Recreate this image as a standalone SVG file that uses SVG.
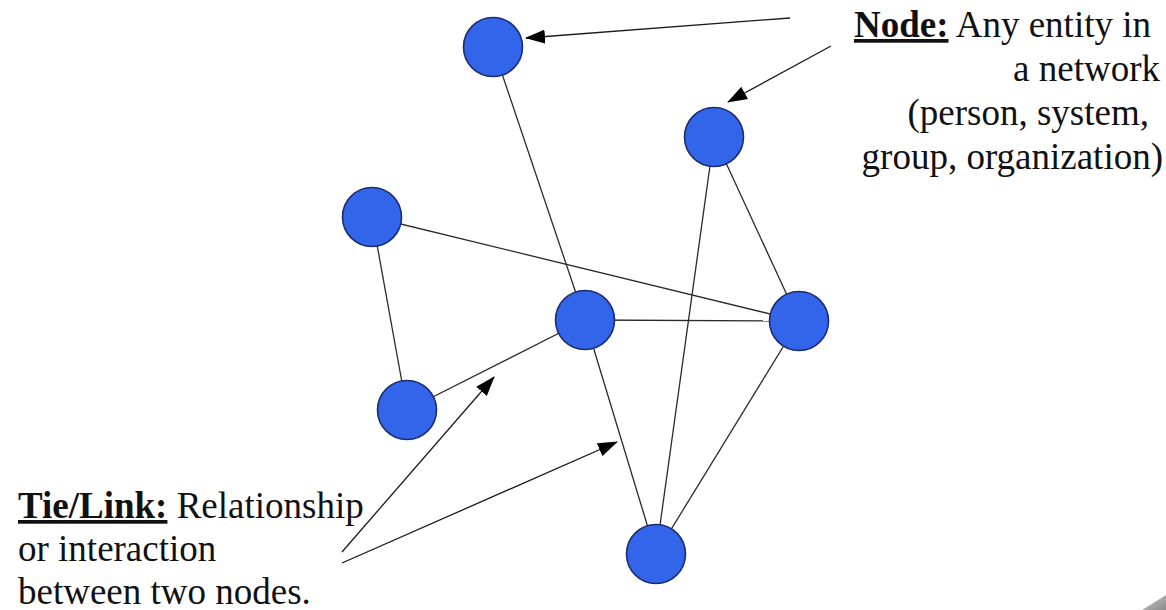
<svg xmlns="http://www.w3.org/2000/svg" width="1166" height="610" viewBox="0 0 1166 610">
<style>
.edge{stroke:#2a2a2a;stroke-width:1.3;fill:none}
.ptr{stroke:#1a1a1a;stroke-width:1.3;fill:none;marker-end:url(#ah)}
.node{fill:#3265EA;stroke:#1c2d72;stroke-width:1.6}
.lbl{font-size:37px;fill:#111}
.b{font-weight:bold;text-decoration:underline}
</style>
<defs>
<marker id="ah" markerWidth="20" markerHeight="14" refX="19" refY="7" orient="auto" markerUnits="userSpaceOnUse">
<path d="M0,0 L20,7 L0,14 Z" fill="#000"/>
</marker>
<linearGradient id="curl" x1="0" y1="0" x2="1" y2="1">
<stop offset="0" stop-color="#c8c8c8"/>
<stop offset="1" stop-color="#8a8a8a"/>
</linearGradient>
</defs>
<rect width="1166" height="610" fill="#fff"/>
<g id="connectors">
<line class="edge" x1="493" y1="47" x2="585" y2="320"/>
<line class="edge" x1="372" y1="217" x2="407" y2="410"/>
<line class="edge" x1="372" y1="217" x2="799" y2="321"/>
<line class="edge" x1="585" y1="320" x2="799" y2="321"/>
<line class="edge" x1="407" y1="410" x2="585" y2="320"/>
<line class="edge" x1="585" y1="320" x2="656" y2="554"/>
<line class="edge" x1="714" y1="137" x2="656" y2="554"/>
<line class="edge" x1="714" y1="137" x2="799" y2="321"/>
<line class="edge" x1="799" y1="321" x2="656" y2="554"/>
<line class="ptr" x1="790" y1="18" x2="526" y2="38"/>
<line class="ptr" x1="831" y1="46" x2="728" y2="102"/>
<line class="ptr" x1="342" y1="552" x2="494" y2="377"/>
<line class="ptr" x1="342" y1="563" x2="617" y2="442"/>
</g>
<g id="nodeA"><circle class="node" cx="493" cy="47" r="29.5"/></g>
<g id="nodeB"><circle class="node" cx="714" cy="137" r="29.5"/></g>
<g id="nodeC"><circle class="node" cx="372" cy="217" r="29.5"/></g>
<g id="nodeD"><circle class="node" cx="585" cy="320" r="29.5"/></g>
<g id="nodeE"><circle class="node" cx="799" cy="321" r="29.5"/></g>
<g id="nodeF"><circle class="node" cx="407" cy="410" r="29.5"/></g>
<g id="nodeG"><circle class="node" cx="656" cy="554" r="29.5"/></g>
<g id="nodeLabel" font-family="Liberation Serif, Tinos, Times New Roman, DejaVu Serif, serif">
<text class="lbl" x="1151" y="37" text-anchor="end"><tspan class="b">Node:</tspan> Any entity in</text>
<text class="lbl" x="1160" y="81" text-anchor="end">a network</text>
<text class="lbl" x="1149" y="125" text-anchor="end">(person, system,</text>
<text class="lbl" x="1163" y="169" text-anchor="end">group, organization)</text>
</g>
<g id="tieLabel" font-family="Liberation Serif, Tinos, Times New Roman, DejaVu Serif, serif">
<text class="lbl" x="18" y="518"><tspan class="b">Tie/Link:</tspan> Relationship</text>
<text class="lbl" x="18" y="561">or interaction</text>
<text class="lbl" x="18" y="604">between two nodes.</text>
</g>
<polygon points="1142,610 1166,595 1166,610" fill="url(#curl)"/>
</svg>
